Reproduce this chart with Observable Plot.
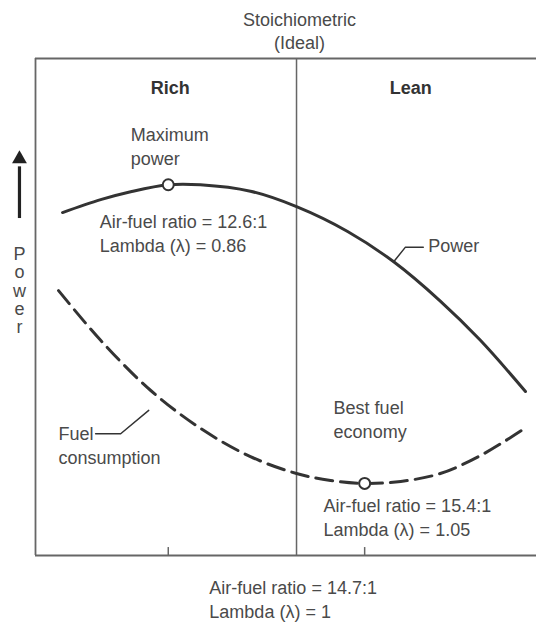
<!DOCTYPE html>
<html>
<head>
<meta charset="utf-8">
<script src="https://cdn.jsdelivr.net/npm/d3@7"></script>
<script src="https://cdn.jsdelivr.net/npm/@observablehq/plot@0.6"></script>
<style>
  html, body { margin: 0; padding: 0; background: #fff; }
  #chart svg { display: block; }
</style>
</head>
<body>
<div id="chart"></div>
<script>
// Schematic mixture axis (0 = richest shown, 100 = leanest shown); y = relative level (0–100)
const stoichX = 52.1;                 // stoichiometric (ideal) mixture
const maxPowerPoint = {x: 26.5, y: 74.6};
const bestEconomyPoint = {x: 65.7, y: 14.5};
const tickPositions = [26.5, 65.7];

const powerX = [5.4, 13.0, 19.0, 26.5, 32.9, 42.9, 52.1, 62.3, 71.5, 80.8, 88.8, 97.8];
const powerY = [69.0, 71.6, 73.2, 74.6, 74.6, 73.3, 70.2, 65.2, 59.1, 51.2, 43.3, 33.0];

const fuelX = [4.6, 13.0, 23.0, 32.9, 42.9, 52.1, 58.9, 65.7, 72.9, 80.8, 88.8, 97.4];
const fuelY = [53.3, 43.3, 33.2, 25.6, 19.9, 16.5, 15.1, 14.5, 14.9, 16.5, 20.1, 25.4];

const regionLabels = ["Rich", "Lean"];
const regionLabelX = [26.9, 74.9];

const labelTexts = [
  "Maximum\npower",
  "Air-fuel ratio = 12.6:1\nLambda (\u03bb) = 0.86",
  "Power",
  "Fuel\nconsumption",
  "Best fuel\neconomy",
  "Air-fuel ratio = 15.4:1\nLambda (\u03bb) = 1.05",
  "Air-fuel ratio = 14.7:1\nLambda (\u03bb) = 1"
];
const labelX = [19.0, 12.8, 78.4, 4.6, 59.5, 57.5, 34.7];
const labelY = [78.5, 61.0, 61.0, 18.5, 23.7, 4.0, -12.5];

const powerLeader = [{x: 71.5, y: 59.1}, {x: 73.8, y: 62.0}, {x: 77.4, y: 62.0}];
const fuelLeader = [{x: 12.0, y: 24.5}, {x: 17.0, y: 24.5}, {x: 22.6, y: 29.2}];

const topLabel = "Stoichiometric\n(Ideal)";
const yAxisLabel = "P\no\nw\ne\nr";
const yAxisArrow = {x: -3.2, y1: 67.8, y2: 78.2, head: 79.8, labelY: 44.7};

// ---- build tables ----
const power = powerX.map((x, i) => ({x, y: powerY[i]}));
const fuel = fuelX.map((x, i) => ({x, y: fuelY[i]}));
const labels = labelTexts.map((t, i) => ({t, x: labelX[i], y: labelY[i]}));
const regions = regionLabels.map((t, i) => ({t, x: regionLabelX[i]}));

const textColor = "#4a4a4a";
const lineColor = "#333";
const frameColor = "#666";
const font = "'Liberation Sans', Arial, Helvetica, sans-serif";

const chart = Plot.plot({
  width: 536,
  height: 624,
  marginLeft: 35,
  marginRight: 0,
  marginTop: 58,
  marginBottom: 69,
  x: {domain: [0, 100], axis: null},
  y: {domain: [0, 100], axis: null},
  style: {fontFamily: font, fontSize: "18px", background: "#fff", overflow: "visible"},
  marks: [
    // frame
    Plot.ruleY([100], {x1: 0, x2: 100, stroke: frameColor, strokeWidth: 1.8}),
    Plot.ruleY([0], {x1: 0, x2: 100, stroke: frameColor, strokeWidth: 1.8}),
    Plot.ruleX([0], {y1: 0, y2: 100, stroke: frameColor, strokeWidth: 1.8}),
    Plot.ruleX([stoichX], {y1: 0, y2: 100, stroke: frameColor, strokeWidth: 1.5}),
    Plot.ruleX(tickPositions, {y1: 0, y2: 1.6, stroke: frameColor, strokeWidth: 1.5}),
    // curves
    Plot.line(power, {x: "x", y: "y", curve: "catmull-rom", stroke: lineColor, strokeWidth: 3}),
    Plot.line(fuel, {x: "x", y: "y", curve: "catmull-rom", stroke: lineColor, strokeWidth: 3, strokeDasharray: "17,8"}),
    // leaders
    Plot.line(powerLeader, {x: "x", y: "y", stroke: lineColor, strokeWidth: 1.5}),
    Plot.line(fuelLeader, {x: "x", y: "y", stroke: lineColor, strokeWidth: 1.5}),
    // key points
    Plot.dot([maxPowerPoint, bestEconomyPoint], {x: "x", y: "y", r: 5.5, fill: "#fff", stroke: lineColor, strokeWidth: 2}),
    // labels
    Plot.text(labels, {x: "x", y: "y", text: "t", textAnchor: "start", lineAnchor: "bottom", lineHeight: 1.33, fill: textColor, fontSize: 18}),
    Plot.text(regions, {x: "x", y: [92.8, 92.8], text: "t", textAnchor: "middle", lineAnchor: "bottom", fill: "#333", fontSize: 18, fontWeight: "bold"}),
    Plot.text([topLabel], {x: [52.7], y: [102.0], text: d => d, textAnchor: "middle", lineAnchor: "bottom", lineHeight: 1.28, fill: textColor, fontSize: 18}),
    // y-axis label and arrow
    Plot.text([yAxisLabel], {x: [yAxisArrow.x], y: [yAxisArrow.labelY], text: d => d, textAnchor: "middle", lineAnchor: "bottom", lineHeight: 1.02, fill: textColor, fontSize: 18}),
    Plot.ruleX([yAxisArrow], {x: "x", y1: "y1", y2: "y2", stroke: "#222", strokeWidth: 3.2}),
    Plot.dot([yAxisArrow], {x: "x", y: "head", symbol: "triangle", r: 5.5, fill: "#222", stroke: "none"})
  ]
});

document.getElementById("chart").appendChild(chart);
</script>
</body>
</html>
